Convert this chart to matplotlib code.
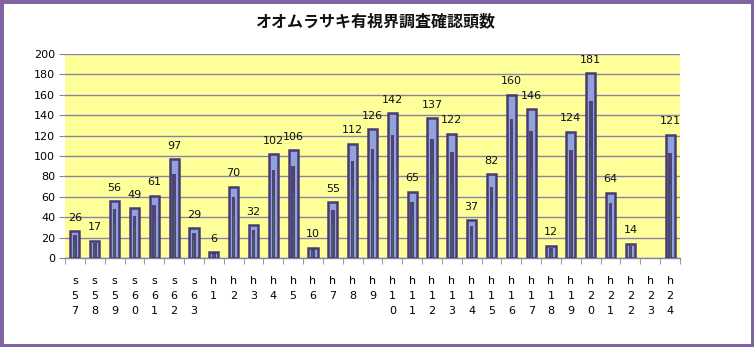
import matplotlib
matplotlib.use("Agg")
import matplotlib.pyplot as plt
import numpy as np
from matplotlib.patches import Rectangle

title = "オオムラサキ有視界調査確認頭数"
categories = ["s57", "s58", "s59", "s60", "s61", "s62", "s63",
              "h1", "h2", "h3", "h4", "h5", "h6", "h7", "h8", "h9", "h10",
              "h11", "h12", "h13", "h14", "h15", "h16", "h17", "h18", "h19", "h20",
              "h21", "h22", "h23", "h24"]
values = [26, 17, 56, 49, 61, 97, 29,
          6, 70, 32, 102, 106, 10, 55, 112, 126, 142,
          65, 137, 122, 37, 82, 160, 146, 12, 124, 181,
          64, 14, None, 121]
yticks = list(range(0, 201, 20))

plt.rcParams['font.family'] = ['DejaVu Sans']

fig = plt.figure(figsize=(7.54, 3.47), dpi=100)
ax = fig.add_axes([65/754, 1-258/347, 615/754, 204/347])
ax.set_facecolor("#FFFF99")

x = np.arange(len(categories))
vals = np.array([np.nan if v is None else v for v in values], dtype=float)
ax.bar(x, vals, width=0.46, color="#8FA3DA", edgecolor="#4A3A72", linewidth=1.8, zorder=3)
ax.bar(x, vals * 0.85, width=0.18, color="#3E2E5A", linewidth=0, zorder=4, alpha=0.8)
ax.bar(x, vals * 0.6, width=0.05, color="#3F7A5A", linewidth=0, zorder=5, alpha=0.7)

for xi, v in zip(x, values):
    if v is None:
        continue
    ax.annotate(str(v), (xi, v), xytext=(0, 6), textcoords="offset points",
                ha="center", va="bottom", fontsize=8, color="#111111", zorder=6)

ax.set_xlim(-0.5, len(categories) - 0.5)
ax.set_ylim(0, 200)
ax.set_yticks(yticks)
ax.yaxis.grid(True, color="#8A82A8", linewidth=1.0, zorder=1)
ax.set_axisbelow(True)
for s in ["top", "right"]:
    ax.spines[s].set_visible(False)
ax.spines["left"].set_visible(False)
ax.spines["bottom"].set_color("#8A82A8")
ax.spines["bottom"].set_linewidth(1.0)

ax.tick_params(axis="y", labelsize=8, length=4, color="#8A82A8", pad=3)
ax.set_xticks(x)
ax.set_xticklabels(["\n".join(c) for c in categories], fontsize=8,
                   linespacing=1.6, va="top")
ax.tick_params(axis="x", which="major", length=0, pad=13)
ax.set_xticks(np.arange(-0.5, len(categories), 1.0), minor=True)
ax.tick_params(axis="x", which="minor", length=4, color="#8A82A8", direction="out")

fig.text(375/754, 1-21/347, title, ha="center", va="center", fontsize=11.5,
         weight="bold", family=["Noto Sans CJK JP", "DejaVu Sans"], color="#111111")

fig.patches.append(Rectangle((0, 0), 1, 1, transform=fig.transFigure, fill=False,
                             edgecolor="#7F63A1", linewidth=5, zorder=10))

fig.savefig("out.png", dpi=100, facecolor="white")
